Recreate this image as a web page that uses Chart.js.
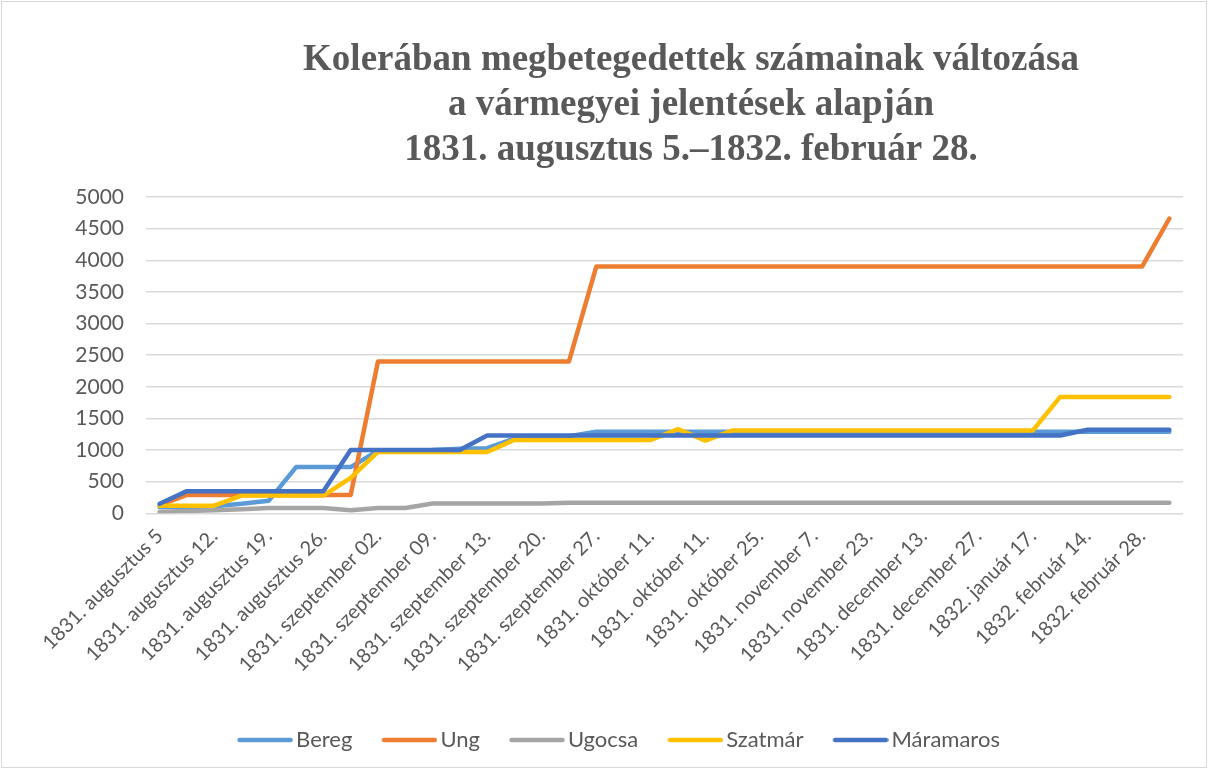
<!DOCTYPE html>
<html>
<head>
<meta charset="utf-8">
<script src="https://cdn.jsdelivr.net/npm/chart.js@4/dist/chart.umd.min.js"></script>
<style>
html,body{margin:0;padding:0;background:#fff;}
#wrap{position:relative;width:1208px;height:769px;}
canvas{display:block;}
</style>
</head>
<body>
<div id="wrap"><canvas id="c" width="1208" height="769"></canvas></div>
<script>
const titleLines = [
  'Kolerában megbetegedettek számainak változása',
  'a vármegyei jelentések alapján',
  '1831. augusztus 5.–1832. február 28.'
];
// labels visible on the axis (every second category)
const tickLabels = [
  '1831. augusztus 5', '1831. augusztus 12.', '1831. augusztus 19.', '1831. augusztus 26.',
  '1831. szeptember 02.', '1831. szeptember 09.', '1831. szeptember 13.', '1831. szeptember 20.',
  '1831. szeptember 27.', '1831. október 11.', '1831. október 11.', '1831. október 25.',
  '1831. november 7.', '1831. november 23.', '1831. december 13.', '1831. december 27.',
  '1832. január 17.', '1832. február 14.', '1832. február 28.'
];
// intermediate report dates are not printed on the axis
const categories = tickLabels.flatMap(t => [t, '']);

const seriesNames = ['Bereg', 'Ung', 'Ugocsa', 'Szatmár', 'Máramaros'];
const seriesColors = ['#5B9BD5', '#ED7D31', '#A5A5A5', '#FFC000', '#4472C4'];

const bereg = [100,100,110,150,200,730,730,730,990,990,1000,1020,1030,1180,1190,1220,
  1290,1290,1290,1290,1290,1290,1290,1290,1290,1290,1290,1290,1290,1290,1290,1290,1290,1290,1290,1290,1290,1290];
const ung = [130,290,290,290,290,290,290,290,2400,2400,2400,2400,2400,2400,2400,2400,
  3900,3900,3900,3900,3900,3900,3900,3900,3900,3900,3900,3900,3900,3900,3900,3900,3900,3900,3900,3900,3900,4660];
const ugocsa = [20,35,50,65,85,85,85,50,85,85,155,155,155,155,155,
  165,165,165,165,165,165,165,165,165,165,165,165,165,165,165,165,165,165,165,165,165,165,165];
const szatmar = [120,120,120,280,280,280,280,560,970,970,970,970,970,1160,1160,1160,1160,1160,1160,1330,1150,
  1310,1310,1310,1310,1310,1310,1310,1310,1310,1310,1310,1310,1840,1840,1840,1840,1840];
const maramaros = [150,350,350,350,350,350,350,1000,1000,1000,1000,1000,
  1230,1230,1230,1230,1230,1230,1230,1230,1230,1230,1230,1230,1230,1230,1230,1230,1230,1230,1230,1230,1230,1230,
  1320,1320,1320,1320];
const seriesData = [bereg, ung, ugocsa, szatmar, maramaros];

const yTicks = {min: 0, max: 5000, step: 500};

const AXIS_FONT = 'Lato';
const TEXT_COLOR = '#595959';
const LEGEND_SIZE = 22;

function legendLine(color) {
  const c = document.createElement('canvas');
  c.width = 64; c.height = 10;
  const g = c.getContext('2d');
  g.strokeStyle = color; g.lineWidth = 4.5; g.lineCap = 'round';
  g.beginPath(); g.moveTo(8 + 2.5, 5); g.lineTo(64 - 2.5, 5); g.stroke();
  return c;
}

const excelTitle = {
  id: 'excelTitle',
  beforeDraw(chart) {
    const ctx = chart.ctx;
    ctx.save();
    ctx.fillStyle = '#ffffff';
    ctx.fillRect(0, 0, chart.width, chart.height);
    ctx.strokeStyle = '#D9D9D9';
    ctx.lineWidth = 1;
    ctx.strokeRect(1.5, 1.5, chart.width - 3, chart.height - 3);
    ctx.restore();
  },
  afterDraw(chart) {
    const ctx = chart.ctx;
    ctx.save();
    ctx.font = 'bold 37px "Liberation Serif"';
    ctx.fillStyle = TEXT_COLOR;
    ctx.textAlign = 'center';
    ctx.textBaseline = 'alphabetic';
    titleLines.forEach((line, i) => ctx.fillText(line, 691, 70 + i * 45));
    ctx.restore();
  }
};

const chart = new Chart(document.getElementById('c'), {
  type: 'line',
  data: {
    labels: categories,
    datasets: seriesNames.map((name, i) => ({
      label: name,
      data: seriesData[i],
      borderColor: seriesColors[i],
      backgroundColor: seriesColors[i],
      borderWidth: 4.5,
      borderCapStyle: 'round',
      borderJoinStyle: 'round',
      pointRadius: 0,
      pointHoverRadius: 0,
      pointStyle: legendLine(seriesColors[i]),
      tension: 0,
      fill: false,
      order: seriesNames.length - i
    }))
  },
  options: {
    responsive: false,
    animation: false,
    devicePixelRatio: 1,
    layout: {padding: {top: 197, left: 54, right: 25, bottom: 8}},
    plugins: {
      title: {display: false},
      tooltip: {enabled: false},
      legend: {
        position: 'bottom',
        labels: {
          usePointStyle: true,
          pointStyleWidth: 48,
          padding: 29,
          color: TEXT_COLOR,
          font: {family: AXIS_FONT, size: LEGEND_SIZE},
          sort: (a, b) => a.datasetIndex - b.datasetIndex
        }
      }
    },
    scales: {
      x: {
        offset: true,
        grid: {display: false, drawTicks: false},
        border: {display: false},
        ticks: {
          autoSkip: false,
          minRotation: 45,
          maxRotation: 45,
          padding: 11,
          color: TEXT_COLOR,
          font: {family: AXIS_FONT, size: 20}
        },
        afterFit(scale) { scale.height = 186.7; }
      },
      y: {
        min: yTicks.min,
        max: yTicks.max,
        grid: {color: '#D9D9D9', lineWidth: 1.5, drawTicks: false},
        border: {display: false},
        ticks: {
          stepSize: yTicks.step,
          padding: 22,
          color: TEXT_COLOR,
          font: {family: AXIS_FONT, size: 21},
          callback: v => String(v)
        },
        afterFit(scale) { scale.width = 92; }
      }
    }
  },
  plugins: [excelTitle]
});
</script>
</body>
</html>
